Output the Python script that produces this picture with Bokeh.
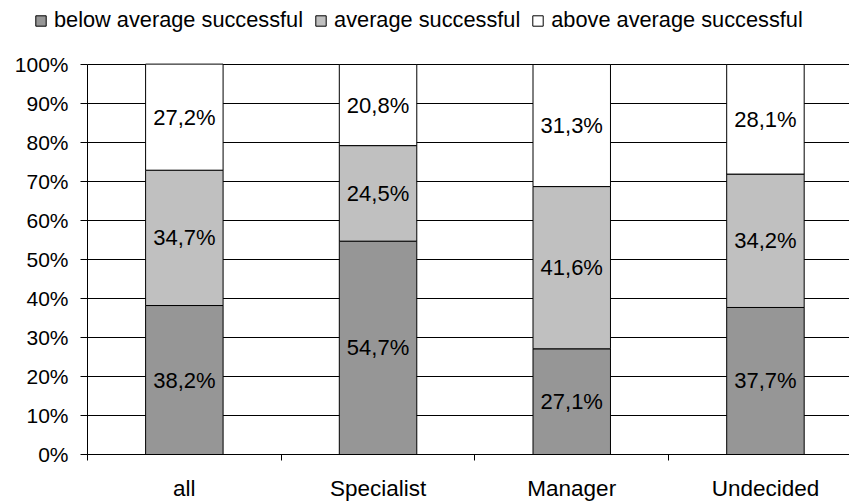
from bokeh.plotting import figure
from bokeh.models import (Range1d, FixedTicker, NumeralTickFormatter, Legend,
                          LegendItem, ColumnDataSource)
from bokeh.core.properties import value
from bokeh.embed import file_html
from bokeh.resources import INLINE

# Share of respondents per career-orientation group (percent)
categories = ["all", "Specialist", "Manager", "Undecided"]
below_average = [38.2, 54.7, 27.1, 37.7]
average = [34.7, 24.5, 41.6, 34.2]
above_average = [27.2, 20.8, 31.3, 28.1]

series_names = ["below average successful", "average successful", "above average successful"]
series_values = [below_average, average, above_average]
series_colors = ["#969696", "#C0C0C0", "#FFFFFF"]

FONT = "Liberation Sans"

x_pos = [i + 0.5 for i in range(len(categories))]
X_END = 3.934

# The frame covers the whole canvas; both axes are pinned at 0 so the legend
# row and the axis labels all stay inside it.
p = figure(width=849, height=502, output_backend="svg", toolbar_location=None,
           x_range=Range1d(-87 / 193.7, X_END), y_range=Range1d(-48 / 390, 454 / 390),
           min_border_left=0, min_border_right=0, min_border_top=0,
           min_border_bottom=0)
p.outline_line_color = None
p.background_fill_color = "white"
p.border_fill_color = "white"

# horizontal gridlines in black, limited to the plot area
p.xgrid.visible = False
p.ygrid.grid_line_color = "black"
p.ygrid.grid_line_width = 1
p.ygrid.grid_line_alpha = 1
p.ygrid.bounds = (0, 1)
p.ygrid.cross_bounds = (0, X_END)

# y axis: 0%..100%
p.yaxis.fixed_location = 0
p.yaxis.bounds = (0, 1)
p.yaxis.ticker = FixedTicker(ticks=[i / 10 for i in range(11)])
p.yaxis.formatter = NumeralTickFormatter(format="0%")
p.yaxis.axis_line_color = "black"
p.yaxis.major_tick_line_color = "black"
p.yaxis.major_tick_out = 7
p.yaxis.major_tick_in = 0
p.yaxis.minor_tick_line_color = None
p.yaxis.major_label_standoff = 12
p.yaxis.major_label_text_font = FONT
p.yaxis.major_label_text_font_size = "21px"
p.yaxis.major_label_text_color = "black"

# x axis: labels at category centres, tick marks at category boundaries
p.xaxis.fixed_location = 0
p.xaxis.bounds = (0, X_END)
p.xaxis.ticker = FixedTicker(ticks=x_pos, minor_ticks=list(range(len(categories) + 1)))
p.xaxis.major_label_overrides = {x: c for x, c in zip(x_pos, categories)}
p.xaxis.axis_line_color = "black"
p.xaxis.major_tick_line_color = None
p.xaxis.major_tick_out = 0
p.xaxis.major_tick_in = 0
p.xaxis.minor_tick_line_color = "black"
p.xaxis.minor_tick_out = 6
p.xaxis.minor_tick_in = 0
p.xaxis.major_label_standoff = 15
p.xaxis.major_label_text_font = FONT
p.xaxis.major_label_text_font_size = "22.5px"
p.xaxis.major_label_text_color = "black"

# stacked bars with value labels
bottoms = [0.0] * len(categories)
items = []
for name, vals, color in zip(series_names, series_values, series_colors):
    fr = [v / 100 for v in vals]
    tops = [b + f for b, f in zip(bottoms, fr)]
    src = ColumnDataSource(dict(
        x=x_pos, bottom=bottoms, top=tops,
        mid=[(b + t) / 2 for b, t in zip(bottoms, tops)],
        label=[f"{v:.1f}%".replace(".", ",") for v in vals],
    ))
    r = p.vbar(x="x", bottom="bottom", top="top", width=0.4, source=src,
               fill_color=color, line_color="black", line_width=1)
    p.text(x="x", y="mid", text="label", source=src, text_align="center",
           text_baseline="middle", text_font=value(FONT), text_font_size="22px",
           text_color="black")
    items.append(LegendItem(label=name, renderers=[r]))
    bottoms = tops

legend = Legend(items=items, orientation="horizontal", location=(34, 469),
                padding=0, margin=0, spacing=11, glyph_width=13, glyph_height=13,
                label_standoff=7, border_line_color=None, background_fill_alpha=0,
                label_text_font=FONT, label_text_font_size="21.75px",
                label_text_color="black")
p.add_layout(legend)

open("out.html", "w").write(file_html(p, INLINE))
